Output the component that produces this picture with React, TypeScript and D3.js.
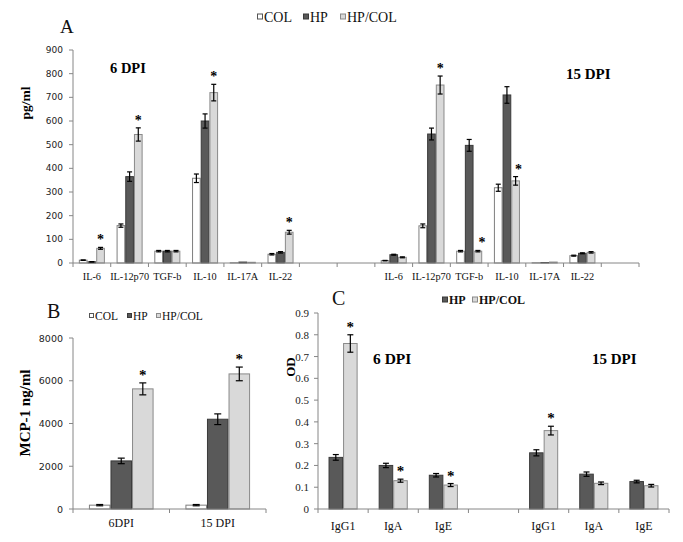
import React from "react";
import * as d3 from "d3";

// ---------- DATA ----------
const seriesABC = ["COL", "HP", "HP/COL"];
const seriesC = ["HP", "HP/COL"];

const cytokines = ["IL-6", "IL-12p70", "TGF-b", "IL-10", "IL-17A", "IL-22"];
const a6COL = [12, 158, 50, 358, 1, 37];
const a6HP = [5, 365, 50, 600, 4, 45];
const a6HPCOL = [62, 543, 50, 720, 3, 130];
const a6COLErr = [1, 7, 3, 18, 0, 3];
const a6HPErr = [1, 20, 3, 30, 0, 3];
const a6HPCOLErr = [4, 28, 3, 35, 0, 8];
const a6Star = [true, true, false, true, false, true];

const a15COL = [10, 157, 50, 318, 1, 31];
const a15HP = [35, 545, 497, 710, 2, 41];
const a15HPCOL = [24, 752, 50, 347, 4, 45];
const a15COLErr = [1, 8, 3, 15, 0, 2];
const a15HPErr = [2, 25, 25, 35, 0, 2];
const a15HPCOLErr = [2, 38, 3, 18, 0, 3];
const a15Star = [false, true, true, true, false, false];

const aTicks = [0, 100, 200, 300, 400, 500, 600, 700, 800, 900];

const bCategories = ["6DPI", "15 DPI"];
const bCOL = [180, 180];
const bHP = [2250, 4200];
const bHPCOL = [5620, 6320];
const bCOLErr = [30, 30];
const bHPErr = [130, 250];
const bHPCOLErr = [280, 320];
const bStar = [true, true];
const bTicks = [0, 2000, 4000, 6000, 8000];

const igs = ["IgG1", "IgA", "IgE"];
const c6HP = [0.237, 0.2, 0.155];
const c6HPCOL = [0.76, 0.13, 0.11];
const c6HPErr = [0.013, 0.01, 0.008];
const c6HPCOLErr = [0.04, 0.007, 0.007];
const c6Star = [true, true, true];
const c15HP = [0.258, 0.16, 0.126];
const c15HPCOL = [0.36, 0.118, 0.107];
const c15HPErr = [0.014, 0.01, 0.006];
const c15HPCOLErr = [0.02, 0.006, 0.006];
const c15Star = [true, false, false];
const cTicks = [0, 0.1, 0.2, 0.3, 0.4, 0.5, 0.6, 0.7, 0.8, 0.9];

// ---------- STYLE ----------
const SERIF = "'Liberation Serif','Times New Roman',serif";
const SANS = "'DejaVu Sans',Verdana,sans-serif";
const AXIS = "#868686";
const FILL: Record<string, string> = { COL: "#ffffff", HP: "#595959", "HP/COL": "#d9d9d9" };
const STROKE: Record<string, string> = { COL: "#7f7f7f", HP: "#3a3a3a", "HP/COL": "#8a8a8a" };

type Group = { slot: number; label: string; values: number[]; errs: number[]; star: boolean; starDx: number };

function BarPanel(props: {
  nSlots: number;
  xRange: [number, number];
  yDomain: [number, number];
  yRange: [number, number];
  ticks: number[];
  tickFmt: (d: number) => string;
  tickFont: string;
  tickSize: number;
  tickGap: number;
  series: string[];
  groups: Group[];
  groupFrac: number;
  capW: number;
  labelSize: number;
  labelY: number;
  starSize: number;
}) {
  const p = props;
  const x = d3.scaleBand<number>().domain(d3.range(p.nSlots)).range(p.xRange).padding(0);
  const bw = x.bandwidth();
  const gw = bw * p.groupFrac;
  const xs = d3.scaleBand<string>().domain(p.series).range([0, gw]).padding(0);
  const y = d3.scaleLinear().domain(p.yDomain).range(p.yRange);
  const y0 = y(0);
  const [x0, x1] = p.xRange;
  return (
    <g>
      {p.groups.map((g, gi) => {
        const gx = (x(g.slot) as number) + (bw - gw) / 2;
        return (
          <g key={gi}>
            {g.values.map((v, si) => {
              const s = p.series[si];
              const bx = gx + (xs(s) as number);
              const w = xs.bandwidth();
              return (
                <rect key={si} x={bx + 0.5} y={y(v)} width={w - 1} height={y0 - y(v)}
                  fill={FILL[s]} stroke={STROKE[s]} strokeWidth={1} />
              );
            })}
          </g>
        );
      })}
      <line x1={x0} x2={x1} y1={y0} y2={y0} stroke={AXIS} strokeWidth={1} />
      {d3.range(p.nSlots + 1).map((i) => {
        const tx = x0 + i * bw;
        return <line key={i} x1={tx} x2={tx} y1={y0} y2={y0 + 4} stroke={AXIS} strokeWidth={1} />;
      })}
      <line x1={x0} x2={x0} y1={y0} y2={y(p.ticks[p.ticks.length - 1])} stroke={AXIS} strokeWidth={1} />
      {p.ticks.map((t, i) => (
        <g key={i}>
          <line x1={x0 - 4} x2={x0} y1={y(t)} y2={y(t)} stroke={AXIS} strokeWidth={1} />
          <text x={x0 - p.tickGap} y={y(t)} textAnchor="end" dominantBaseline="central"
            fontFamily={p.tickFont} fontSize={p.tickSize} fill="#222">{p.tickFmt(t)}</text>
        </g>
      ))}
      {p.groups.map((g, gi) => {
        const gx = (x(g.slot) as number) + (bw - gw) / 2;
        return (
          <g key={gi}>
            {g.values.map((v, si) => {
              const s = p.series[si];
              const cx = gx + (xs(s) as number) + xs.bandwidth() / 2;
              const e = g.errs[si];
              if (e <= 0) return null;
              const yt = y(v + e), yb = y(v - e);
              return (
                <g key={si} stroke="#000" strokeWidth={1.2}>
                  <line x1={cx} x2={cx} y1={yt} y2={yb} />
                  <line x1={cx - p.capW / 2} x2={cx + p.capW / 2} y1={yt} y2={yt} />
                  <line x1={cx - p.capW / 2} x2={cx + p.capW / 2} y1={yb} y2={yb} />
                </g>
              );
            })}
            {g.star && (() => {
              const si = g.values.length - 1;
              const s = p.series[si];
              const cx = gx + (xs(s) as number) + xs.bandwidth() / 2 + g.starDx;
              const yt = y(g.values[si] + g.errs[si]);
              return (
                <text x={cx} y={yt - 3} textAnchor="middle" fontFamily={SERIF} fontWeight="bold"
                  fontSize={p.starSize} fill="#000">*</text>
              );
            })()}
            <text x={(x(g.slot) as number) + bw / 2} y={p.labelY} textAnchor="middle"
              fontFamily={SERIF} fontSize={p.labelSize} fill="#111">{g.label}</text>
          </g>
        );
      })}
    </g>
  );
}

function Legend(props: { items: string[]; xs: number[]; y: number; size: number; sq: number; bold?: boolean }) {
  return (
    <g>
      {props.items.map((s, i) => (
        <g key={s}>
          <rect x={props.xs[i] + 0.5} y={props.y - props.sq / 2 - 0.5} width={props.sq} height={props.sq}
            fill={FILL[s]} stroke={s === "COL" ? "#555" : STROKE[s]} strokeWidth={1} />
          <text x={props.xs[i] + props.sq + 2} y={props.y} dominantBaseline="central" fontFamily={SERIF}
            fontWeight={props.bold ? "bold" : "normal"} fontSize={props.size} fill="#111">{s}</text>
        </g>
      ))}
    </g>
  );
}

function buildGroups(labels: string[], slots: number[], vals: number[][], errs: number[][], stars: boolean[], starDx?: number[]): Group[] {
  return labels.map((l, i) => ({
    slot: slots[i],
    label: l,
    values: vals.map((v) => v[i]),
    errs: errs.map((e) => e[i]),
    star: stars[i],
    starDx: starDx ? starDx[i] : 0,
  }));
}

export default function App() {
  const groupsA = [
    ...buildGroups(cytokines, [0, 1, 2, 3, 4, 5], [a6COL, a6HP, a6HPCOL], [a6COLErr, a6HPErr, a6HPCOLErr], a6Star),
    ...buildGroups(cytokines, [8, 9, 10, 11, 12, 13], [a15COL, a15HP, a15HPCOL], [a15COLErr, a15HPErr, a15HPCOLErr], a15Star, [0, 0, 4, 3, 0, 0]),
  ];
  const groupsB = buildGroups(bCategories, [0, 1], [bCOL, bHP, bHPCOL], [bCOLErr, bHPErr, bHPCOLErr], bStar);
  const groupsC = [
    ...buildGroups(igs, [0, 1, 2], [c6HP, c6HPCOL], [c6HPErr, c6HPCOLErr], c6Star, [0, 0, 0]),
    ...buildGroups(igs, [4, 5, 6], [c15HP, c15HPCOL], [c15HPErr, c15HPCOLErr], c15Star),
  ];
  return (
    <svg width={683} height={542} style={{ position: "absolute", left: 0, top: 0, background: "#fff" }}
      xmlns="http://www.w3.org/2000/svg">
      <rect width={683} height={542} fill="#fff" />
      {/* Panel A */}
      <text x={60} y={33} fontFamily={SERIF} fontSize={19} fill="#111">A</text>
      <Legend items={seriesABC} xs={[257, 303, 340]} y={17} size={14} sq={5} />
      <text x={110} y={73} fontFamily={SERIF} fontWeight="bold" fontSize={14.5} fill="#000">6 DPI</text>
      <text x={566} y={79} fontFamily={SERIF} fontWeight="bold" fontSize={15} fill="#000">15 DPI</text>
      <text transform="translate(25,103) rotate(-90)" textAnchor="middle" dominantBaseline="central"
        fontFamily={SERIF} fontWeight="bold" fontSize={13.5} fill="#000">pg/ml</text>
      <BarPanel nSlots={15} xRange={[73, 639]} yDomain={[0, 900]} yRange={[263, 50]} ticks={aTicks}
        tickFmt={(d) => String(d)} tickFont={SANS} tickSize={9} tickGap={10}
        series={seriesABC} groups={groupsA} groupFrac={0.69} capW={5} labelSize={10.3} labelY={280} starSize={14} />

      {/* Panel B */}
      <text x={47} y={318} fontFamily={SERIF} fontSize={20} fill="#111">B</text>
      <Legend items={seriesABC} xs={[89, 127, 156]} y={316} size={11.5} sq={4} />
      <text transform="translate(25,413) rotate(-90)" textAnchor="middle" dominantBaseline="central"
        fontFamily={SERIF} fontWeight="bold" fontSize={15} fill="#000">MCP-1 ng/ml</text>
      <BarPanel nSlots={2} xRange={[73, 266]} yDomain={[0, 8000]} yRange={[509, 338]} ticks={bTicks}
        tickFmt={(d) => String(d)} tickFont={SANS} tickSize={9.5} tickGap={10}
        series={seriesABC} groups={groupsB} groupFrac={0.67} capW={7} labelSize={12} labelY={527} starSize={15} />

      {/* Panel C */}
      <text x={332} y={305} fontFamily={SERIF} fontSize={20} fill="#111">C</text>
      <Legend items={seriesC} xs={[442, 472]} y={300} size={12} sq={5} bold />
      <text x={373} y={364} fontFamily={SERIF} fontWeight="bold" fontSize={15.5} fill="#000">6 DPI</text>
      <text x={592} y={364} fontFamily={SERIF} fontWeight="bold" fontSize={15} fill="#000">15 DPI</text>
      <text transform="translate(290,367) rotate(-90)" textAnchor="middle" dominantBaseline="central"
        fontFamily={SERIF} fontWeight="bold" fontSize={13} fill="#000">OD</text>
      <BarPanel nSlots={7} xRange={[318, 669]} yDomain={[0, 0.9]} yRange={[509, 313]} ticks={cTicks}
        tickFmt={(d) => (d === 0 ? "0" : d.toFixed(1))} tickFont={SERIF} tickSize={11} tickGap={9}
        series={seriesC} groups={groupsC} groupFrac={0.58} capW={6} labelSize={12} labelY={530} starSize={15} />
    </svg>
  );
}
